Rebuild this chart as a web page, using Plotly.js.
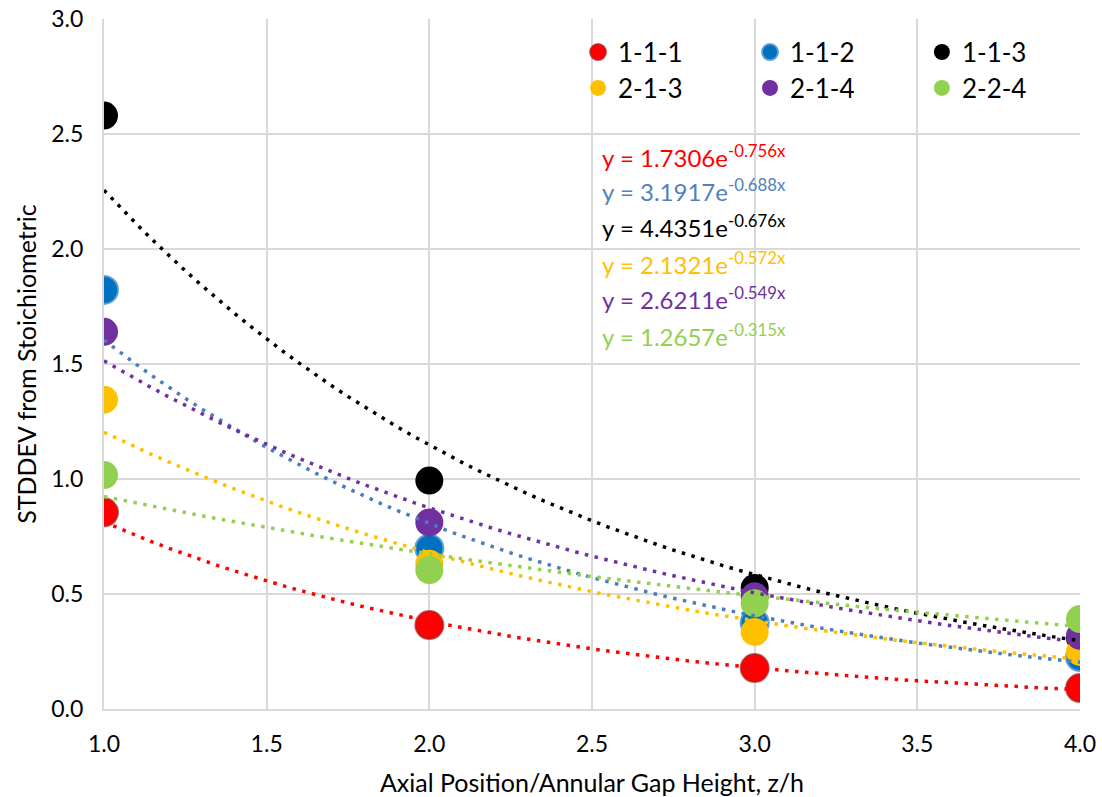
<!DOCTYPE html>
<html>
<head>
<meta charset="utf-8">
<script src="https://cdn.plot.ly/plotly-3.0.1.min.js"></script>
<style>html,body{margin:0;padding:0;background:#fff;}#chart{width:1102px;height:797px;}</style>
</head>
<body>
<div id="chart"></div>
<script>
// ---- data ----
const xPositions = [1, 2, 3, 4];
const seriesNames = ['1-1-1', '1-1-2', '1-1-3', '2-1-3', '2-1-4', '2-2-4'];
const s111 = [0.855, 0.365, 0.178, 0.091];
const s112 = [1.822, 0.698, 0.374, 0.226];
const s113 = [2.580, 0.993, 0.526, 0.310];
const s213 = [1.345, 0.632, 0.335, 0.248];
const s214 = [1.640, 0.811, 0.490, 0.318];
const s224 = [1.017, 0.604, 0.460, 0.391];
// exponential trendline coefficients shown on the chart: y = a e^(b x)
const trendA = [1.7306, 3.1917, 4.4351, 2.1321, 2.6211, 1.2657];
const trendB = [-0.756, -0.688, -0.676, -0.572, -0.549, -0.315];
const equationLabels = [
  'y = 1.7306e<sup>-0.756x</sup>',
  'y = 3.1917e<sup>-0.688x</sup>',
  'y = 4.4351e<sup>-0.676x</sup>',
  'y = 2.1321e<sup>-0.572x</sup>',
  'y = 2.6211e<sup>-0.549x</sup>',
  'y = 1.2657e<sup>-0.315x</sup>'
];
const yTickVals = [0, 0.5, 1.0, 1.5, 2.0, 2.5, 3.0];
const xTickVals = [1.0, 1.5, 2.0, 2.5, 3.0, 3.5, 4.0];

// ---- styles ----
const seriesValues = [s111, s112, s113, s213, s214, s224];
const markerColors = ['#FF0000', '#0070C0', '#000000', '#FFC000', '#7030A0', '#92D050'];
const markerLines = ['rgba(170,30,30,0.7)', 'rgba(91,155,213,0.9)', '#000000', '#FFC000', '#7030A0', '#92D050'];
const markerLineW = [2, 2, 0, 0, 0, 0];
const trendColors = ['#FF0000', '#4A7EBB', '#000000', '#FFC000', '#7030A0', '#92D050'];
const eqColors = ['#FF0000', '#4F81BD', '#000000', '#FFC000', '#7030A0', '#92D050'];
const FONT = 'Lato, "Open Sans", sans-serif';

const legendIds = ['legend', 'legend3', 'legend5', 'legend2', 'legend4', 'legend6'];

const traces = [];
seriesValues.forEach((vals, i) => {
  traces.push({
    type: 'scatter', mode: 'markers', x: xPositions, y: vals, name: seriesNames[i],
    marker: {size: 28, color: markerColors[i], line: {color: markerLines[i], width: markerLineW[i]}},
    legend: legendIds[i], hoverinfo: 'x+y+name'
  });
});
// trendlines evaluated over the axis range
const nSamp = 61;
const tx = [];
for (let k = 0; k < nSamp; k++) tx.push(1 + 3 * k / (nSamp - 1));
trendA.forEach((a, i) => {
  traces.push({
    type: 'scatter', mode: 'lines', x: tx, y: tx.map(v => a * Math.exp(trendB[i] * v)),
    line: {color: trendColors[i], width: 3.5, dash: '3.5px,6.5px'},
    showlegend: false, hoverinfo: 'skip'
  });
});

const colLeft = [0.4857, 0.6619, 0.838];
const rowY = [0.952, 0.9];
const legendDefs = {};
legendIds.forEach((id, i) => {
  const col = i % 3, row = Math.floor(i / 3);
  legendDefs[id] = {
    x: colLeft[col], xanchor: 'left', y: rowY[row], yanchor: 'middle',
    bgcolor: 'rgba(0,0,0,0)', borderwidth: 0, itemsizing: 'trace',
    font: {family: FONT, size: 26, color: '#000'}
  };
});

const eqY = [2.403, 2.256, 2.099, 1.938, 1.786, 1.625];
const annotations = equationLabels.map((t, i) => ({
  xref: 'x', yref: 'y', x: 2.526, y: eqY[i], xanchor: 'left', yanchor: 'middle',
  text: t, showarrow: false, font: {family: FONT, size: 24, color: eqColors[i]}
}));

const layout = Object.assign({
  width: 1102, height: 797,
  margin: {l: 104, r: 22, t: 19, b: 88},
  paper_bgcolor: '#fff', plot_bgcolor: '#fff',
  showlegend: true,
  xaxis: {
    range: [1, 4], tickvals: xTickVals, tickformat: '.1f',
    showgrid: true, gridcolor: '#d9d9d9', gridwidth: 2,
    showline: true, linecolor: '#d9d9d9', linewidth: 2, zeroline: false,
    ticks: '', ticklabelstandoff: 13,
    tickfont: {family: FONT, size: 23, color: '#000'},
    title: {text: 'Axial Position/Annular Gap Height, z/h', font: {family: FONT, size: 25, color: '#000'}, standoff: 21}
  },
  yaxis: {
    range: [0, 3], tickvals: yTickVals, tickformat: '.1f',
    showgrid: true, gridcolor: '#d9d9d9', gridwidth: 2,
    showline: true, linecolor: '#d9d9d9', linewidth: 2, zeroline: false,
    ticks: '', ticklabelstandoff: 14,
    tickfont: {family: FONT, size: 23, color: '#000'},
    title: {text: 'STDDEV from Stoichiometric', font: {family: FONT, size: 25, color: '#000'}, standoff: 8}
  },
  shapes: [
    {type: 'rect', xref: 'x', yref: 'y', x0: 2.47, x1: 3.985, y0: 2.615, y1: 2.93,
     fillcolor: '#fff', line: {width: 0}, layer: 'below'},
    {type: 'rect', xref: 'x', yref: 'y', x0: 2.505, x1: 3.111, y0: 1.56, y1: 2.496,
     fillcolor: '#fff', line: {width: 0}, layer: 'below'}
  ],
  annotations: annotations
}, legendDefs);

Plotly.newPlot('chart', traces, layout, {displayModeBar: false, staticPlot: true});
</script>
</body>
</html>
